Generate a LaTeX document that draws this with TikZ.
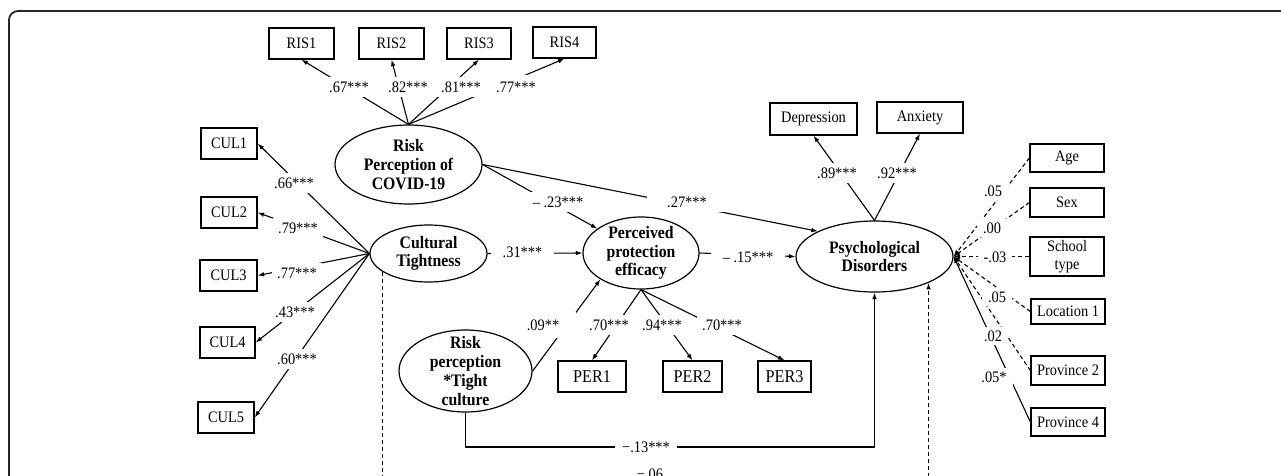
\documentclass[tikz,border=0pt]{standalone}
\usepackage{fontspec}
\setmainfont{Liberation Serif}[FakeStretch=0.9]
\usetikzlibrary{arrows.meta,calc,shapes.geometric}
\begin{document}
\begin{tikzpicture}[x=1pt,y=-1pt,
  conn/.style={line width=1.1pt,-{Latex[length=6.5pt,width=4.6pt]}},
  obs/.style={draw,line width=1.3pt,inner sep=0pt,minimum height=31pt,align=center,font=\fontsize{16}{18}\selectfont},
  perbox/.style={obs,font=\fontsize{18}{20}\selectfont},
  lat/.style={draw,ellipse,line width=1.2pt,inner sep=0pt},
  lattext/.style={inner sep=0pt,align=center,font=\fontsize{17.5}{18.7}\selectfont\bfseries},
  lab/.style={fill=white,inner xsep=5pt,inner ysep=5pt,font=\fontsize{16}{18}\selectfont},
  slab/.style={lab,inner xsep=12pt},
  clab/.style={lab,inner xsep=6pt,inner ysep=4pt},
  gapnode/.style={fill=white,inner sep=0pt,minimum width=20pt,minimum height=26pt},
  dsh/.style={dash pattern=on 4pt off 3pt}
]
\useasboundingbox (0,0) rectangle (1281,475);
\clip (0,0) rectangle (1281,475);
% frame
\draw[line width=1.8pt,color=black!85,rounded corners=9pt] (9,600) -- (9,11) -- (1300,11);

% observed boxes
\node[obs,minimum width=65pt] (ris1) at (301.5,43.5) {RIS1};
\node[obs,minimum width=65pt] (ris2) at (391.5,43.5) {RIS2};
\node[obs,minimum width=64pt] (ris3) at (479,43.5) {RIS3};
\node[obs,minimum width=63pt] (ris4) at (564.5,42.5) {RIS4};

\node[obs,minimum width=56pt] (cul1) at (229,143.5) {CUL1};
\node[obs,minimum width=56pt] (cul2) at (229,212.5) {CUL2};
\node[obs,minimum width=57pt] (cul3) at (228.5,275.5) {CUL3};
\node[obs,minimum width=55pt] (cul4) at (227.5,342.5) {CUL4};
\node[obs,minimum width=56pt] (cul5) at (226,417.5) {CUL5};

\node[perbox,minimum width=68pt] (per1) at (592,376.5) {PER1};
\node[perbox,minimum width=59pt] (per2) at (692.5,376.5) {PER2};
\node[perbox,minimum width=53pt] (per3) at (784.5,376.5) {PER3};

\node[obs,minimum width=87pt,minimum height=32pt] (dep) at (813.5,119) {Depression};
\node[obs,minimum width=86pt] (anx) at (920,117.5) {Anxiety};

\node[obs,minimum width=74pt,minimum height=28pt] (age) at (1067,158) {Age};
\node[obs,minimum width=74pt,minimum height=29pt] (sex) at (1067,202.5) {Sex};
\node[obs,minimum width=74pt,minimum height=39pt] (school) at (1067,256.5) {School\\type};
\node[obs,minimum width=74pt,minimum height=25pt] (loc) at (1068,311.5) {Location 1};
\node[obs,minimum width=74pt,minimum height=29pt] (prov2) at (1068,370.5) {Province 2};
\node[obs,minimum width=74pt,minimum height=28pt] (prov4) at (1068,422) {Province 4};

% latent ellipses
\node[lat,minimum width=147pt,minimum height=79pt] (risk) at (408.5,164.5) {};
\node[lattext] (risktx) at (risk) {Risk\\Perception of\\COVID-19};
\node[lat,minimum width=117pt,minimum height=57pt] (cult) at (428.5,253.5) {};
\node[lattext] (culttx) at (cult) {Cultural\\Tightness};
\node[lat,minimum width=116pt,minimum height=72pt] (perc) at (641,253) {};
\node[lattext] (perctx) at (perc) {Perceived\\protection\\efficacy};
\node[lat,minimum width=157pt,minimum height=71pt] (psych) at (874.5,256.5) {};
\node[lattext] (psychtx) at (psych) {Psychological\\Disorders};
\node[lat,minimum width=133pt,minimum height=82pt] (inter) at (465.5,371) {};
\node[lattext] (intertx) at (inter) {Risk\\perception\\*Tight\\culture};

% connectors
\foreach \r in {ris1,ris2,ris3,ris4} \draw[conn] (risk.north) -- (\r.south);
\foreach \c in {cul1,cul2,cul3,cul4,cul5} \draw[conn] (cult.west) -- (\c.east);
\draw[conn] (risk.east) -- (perc);
\draw[conn] (risk.east) -- (psych.156);
\draw[conn] (cult.east) -- (perc.west);
\draw[conn] (perc.east) -- (psych.west);
\draw[conn] (inter.east) -- node[gapnode]{} (perc.213);
\foreach \p in {per1,per2,per3} \draw[conn] (perc.south) -- (\p.north);
\draw[conn] (psych.north) -- (dep.south);
\draw[conn] (psych.north) -- (anx.south);
\foreach \v in {age,sex,school,loc,prov2} \draw[conn,dsh] (\v.west) -- (psych.east);
\draw[conn] (prov4.west) -- (psych.east);
\coordinate (c13) at (650,447);
\draw[conn] (inter.south) |- (c13) -| (psych.south);
\coordinate (c06) at (650,490);
\draw[conn,dsh] (cult.202.6) |- (c06) -| (psych.334);

% labels
\node[lab] (l1) at (349,87) {.67***};
\node[lab] (l2) at (408,87) {.82***};
\node[lab] (l3) at (461,87) {.81***};
\node[lab,inner xsep=10pt,inner ysep=7pt] (l4) at (516,87) {.77***};
\node[lab] (lc1) at (294,183) {.66***};
\node[lab] (lc2) at (298,228) {.79***};
\node[lab] (lc3) at (297,273) {.77***};
\node[lab] (lc4) at (295,312) {.43***};
\node[lab] (lc5) at (297,359) {.60***};
\node[slab] (l23) at (558,202) {– .23***};
\node[slab,inner xsep=20pt] (l27) at (687,202) {.27***};
\node[slab] (l31) at (522.5,252) {.31***};
\node[slab] (l15) at (748,257) {– .15***};
\node[lab,fill=none] (l09) at (543,325) {.09**};
\node[lab] (lp1) at (609,325) {.70***};
\node[lab] (lp2) at (662,325) {.94***};
\node[lab] (lp3) at (722,325) {.70***};
\node[lab] (ld) at (837,173) {.89***};
\node[lab] (la) at (897,173) {.92***};
\node[clab] (lage) at (993,191) {.05};
\node[clab] (lsex) at (992,228) {.00};
\node[clab] (lsch) at (995,257) {-.03};
\node[clab] (lloc) at (997,297) {.05};
\node[clab] (lpr2) at (993,336) {.02};
\node[clab] (lpr4) at (994,377) {.05*};
\node[lab,inner xsep=7pt] (l13) at (646,447) {−.13***};
\node[lab,inner ysep=1pt] (l06) at (650,474) {−.06};
\end{tikzpicture}
\end{document}
